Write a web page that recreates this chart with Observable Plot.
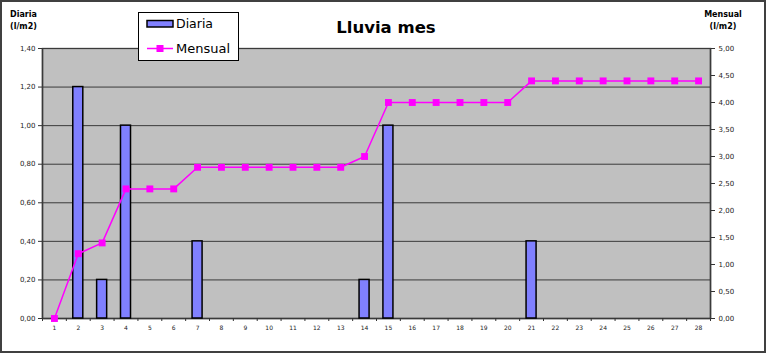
<!DOCTYPE html>
<html><head><meta charset="utf-8">
<script src="https://cdn.jsdelivr.net/npm/d3@7"></script>
<script src="https://cdn.jsdelivr.net/npm/@observablehq/plot@0.6"></script>
<style>
html,body{margin:0;padding:0;background:#fff}
#wrap{position:relative;width:767px;height:354px;overflow:hidden}
#wrap svg{display:block}
#overlay{position:absolute;left:0;top:0;pointer-events:none}
</style></head>
<body><div id="wrap"></div>
<script>
const days = [1,2,3,4,5,6,7,8,9,10,11,12,13,14,15,16,17,18,19,20,21,22,23,24,25,26,27,28];
const diaria = [0,1.2,0.2,1.0,0,0,0.4,0,0,0,0,0,0,0.2,1.0,0,0,0,0,0,0.4,0,0,0,0,0,0,0];
const mensual = [0,1.2,1.4,2.4,2.4,2.4,2.8,2.8,2.8,2.8,2.8,2.8,2.8,3.0,4.0,4.0,4.0,4.0,4.0,4.0,4.4,4.4,4.4,4.4,4.4,4.4,4.4,4.4];
const leftTicks = [0,0.2,0.4,0.6,0.8,1.0,1.2,1.4];
const rightTicks = [0,0.5,1,1.5,2,2.5,3,3.5,4,4.5,5];
const title = "Lluvia mes";
const seriesNames = ["Diaria","Mensual"];
const leftTitle = ["Diaria","(l/m2)"];
const rightTitle = ["Mensual","(l/m2)"];

const leftMax = 1.4, rightMax = 5;
const k = leftMax / rightMax;
const fmt = v => d3.format(".2f")(v).replace(".", ",");
const barData = days.map((d,i)=>({day:d, value:diaria[i]})).filter(d=>d.value>0);
const lineData = days.map((d,i)=>({day:d, value:mensual[i]}));
const bounds = d3.range(0.5, 29, 1);
const halfBar = 0.21;

const chart = Plot.plot({
  width:767, height:354,
  marginTop:48, marginBottom:36, marginLeft:42, marginRight:57,
  style:{fontFamily:"'DejaVu Sans', sans-serif", fontSize:"7px", color:"#222", background:"transparent"},
  x:{domain:[0.5,28.5], axis:null},
  y:{domain:[0,leftMax], axis:null},
  marks:[
    Plot.frame({fill:"#c0c0c0", stroke:"#808080", strokeWidth:1.5}),
    Plot.gridY(leftTicks, {stroke:"#3a3a3a", strokeOpacity:1, strokeWidth:1}),
    Plot.ruleX([0.5, 28.5], {stroke:"#3a3a3a", strokeWidth:1.5}),
    Plot.ruleY([0], {stroke:"#3a3a3a", strokeWidth:1.5}),
    Plot.rect(barData, {x1:d=>d.day-halfBar, x2:d=>d.day+halfBar, y1:0, y2:"value", fill:"#8080ff", stroke:"#000", strokeWidth:1.5}),
    Plot.line(lineData, {x:"day", y:d=>d.value*k, stroke:"#ff00ff", strokeWidth:1.5}),
    Plot.dot(lineData, {x:"day", y:d=>d.value*k, symbol:"square", r:3.9, fill:"#ff00ff"}),
    Plot.axisY(leftTicks, {anchor:"left", label:null, tickSize:4, tickPadding:3, tickFormat:fmt, fontSize:7, stroke:"#333"}),
    Plot.axisY(rightTicks.map(v=>v*k), {anchor:"right", label:null, tickSize:4, tickPadding:4, tickFormat:d=>fmt(d/k), fontSize:7, stroke:"#333"}),
    Plot.axisX(bounds, {label:null, tickSize:3, tickFormat:()=>"", stroke:"#333"}),
    Plot.axisX(days, {label:null, tickSize:0, tickPadding:7, fontSize:6})
  ]
});
const wrap = document.getElementById("wrap");
wrap.appendChild(chart);

const ns = "http://www.w3.org/2000/svg";
const ov = document.createElementNS(ns, "svg");
ov.setAttribute("id","overlay");
ov.setAttribute("width",767); ov.setAttribute("height",354);
function el(tag, attrs, text){
  const e = document.createElementNS(ns, tag);
  for (const a in attrs) e.setAttribute(a, attrs[a]);
  if (text != null) e.textContent = text;
  ov.appendChild(e);
  return e;
}
// outer border
el("rect",{x:1,y:1,width:764,height:351,fill:"none",stroke:"#404040","stroke-width":2});
// title
el("text",{x:386,y:33,"text-anchor":"middle","font-family":"DejaVu Sans","font-weight":"bold","font-size":16.5,fill:"#000"}, title);
// axis titles
el("text",{x:23.5,y:17,"text-anchor":"middle","font-family":"DejaVu Sans","font-weight":"bold","font-size":8,fill:"#000"}, leftTitle[0]);
el("text",{x:23.5,y:28.5,"text-anchor":"middle","font-family":"DejaVu Sans","font-weight":"bold","font-size":8,fill:"#000"}, leftTitle[1]);
el("text",{x:723,y:17,"text-anchor":"middle","font-family":"DejaVu Sans","font-weight":"bold","font-size":8,fill:"#000"}, rightTitle[0]);
el("text",{x:723,y:28.5,"text-anchor":"middle","font-family":"DejaVu Sans","font-weight":"bold","font-size":8,fill:"#000"}, rightTitle[1]);
// legend
el("rect",{x:138.5,y:12.5,width:100,height:48,fill:"#fff",stroke:"#000","stroke-width":1});
el("rect",{x:147,y:20.5,width:26,height:6.5,fill:"#8080ff",stroke:"#000","stroke-width":1.5});
el("text",{x:176,y:28,"font-family":"DejaVu Sans","font-size":12.5,fill:"#000"}, seriesNames[0]);
el("line",{x1:147,x2:173,y1:48.5,y2:48.5,stroke:"#ff00ff","stroke-width":1.5});
el("rect",{x:156.5,y:45,width:7,height:7,fill:"#ff00ff"});
el("text",{x:176,y:53,"font-family":"DejaVu Sans","font-size":13,fill:"#000"}, seriesNames[1]);
wrap.appendChild(ov);
</script>
</body></html>
